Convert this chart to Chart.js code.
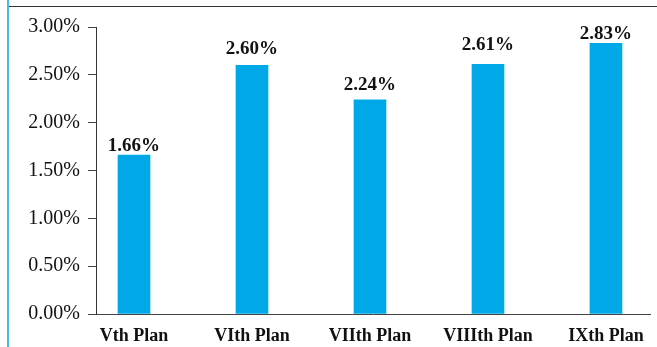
<!DOCTYPE html>
<html>
<head>
<meta charset="utf-8">
<script src="https://cdn.jsdelivr.net/npm/chart.js@4"></script>
<style>
    body { margin: 0; background: #fff; }
    #wrap { position: relative; width: 657px; height: 347px; }
    #topLine { position: absolute; left: 8px; top: 6px; width: 649px; height: 1px; background: #333; }
    #leftLine { position: absolute; left: 7px; top: 0; width: 2px; height: 347px; background: #4fb6e8; }
    canvas { position: absolute; left: 0; top: 0; }
</style>
</head>
<body>
<div id="wrap">
    <canvas id="planChart" width="657" height="347"></canvas>
    <div id="topLine"></div>
    <div id="leftLine"></div>
</div>
<script>
// Plan periods and their growth rates (%)
const plans = ["Vth Plan", "VIth Plan", "VIIth Plan", "VIIIth Plan", "IXth Plan"];
const rates = [1.66, 2.60, 2.24, 2.61, 2.83];
const yTicks = [0, 0.5, 1, 1.5, 2, 2.5, 3];

const serif = "'Liberation Serif', 'Times New Roman', serif";

// gap (px) between each value label and its bar
const labelGap = [4, 11, 10, 14, 4];

// Writes the value above each bar
const barLabels = {
    id: "barLabels",
    afterDatasetsDraw(chart) {
        const ctx = chart.ctx;
        const meta = chart.getDatasetMeta(0);
        ctx.save();
        ctx.font = "bold 19px " + serif;
        ctx.fillStyle = "#111";
        ctx.textAlign = "center";
        ctx.textBaseline = "alphabetic";
        meta.data.forEach((bar, i) => {
            ctx.fillText(rates[i].toFixed(2) + "%", bar.x, bar.y - labelGap[i]);
        });
        ctx.restore();
    }
};

new Chart(document.getElementById("planChart"), {
    type: "bar",
    data: {
        datasets: [{
            data: rates.map((v, i) => ({ x: i, y: v })),
            backgroundColor: "#00a8e8",
            borderWidth: 0,
            barThickness: 32
        }]
    },
    options: {
        responsive: false,
        animation: false,
        layout: { padding: { top: 27, right: 7, bottom: 0, left: 0 } },
        plugins: {
            legend: { display: false },
            tooltip: { enabled: false }
        },
        scales: {
            x: {
                type: "linear",
                offset: false,
                min: -0.322,
                max: 4.373,
                afterBuildTicks: axis => { axis.ticks = plans.map((_, i) => ({ value: i })); },
                afterFit: axis => { axis.height = 33; },
                ticks: {
                    autoSkip: false,
                    maxRotation: 0,
                    padding: 4,
                    color: "#111",
                    font: { family: serif, size: 18, weight: "bold" },
                    callback: value => plans[value]
                },
                grid: { display: false },
                border: { display: true, color: "#444", width: 1 }
            },
            y: {
                min: 0,
                max: 3,
                afterBuildTicks: axis => { axis.ticks = yTicks.map(v => ({ value: v })); },
                afterFit: axis => { axis.width = 96; },
                ticks: {
                    padding: 8,
                    color: "#111",
                    font: { family: serif, size: 20 },
                    callback: value => value.toFixed(2) + "%"
                },
                grid: {
                    display: true,
                    drawOnChartArea: false,
                    drawTicks: true,
                    tickLength: 8,
                    color: "#444"
                },
                border: { display: true, color: "#333", width: 1 }
            }
        }
    },
    plugins: [barLabels]
});
</script>
</body>
</html>
